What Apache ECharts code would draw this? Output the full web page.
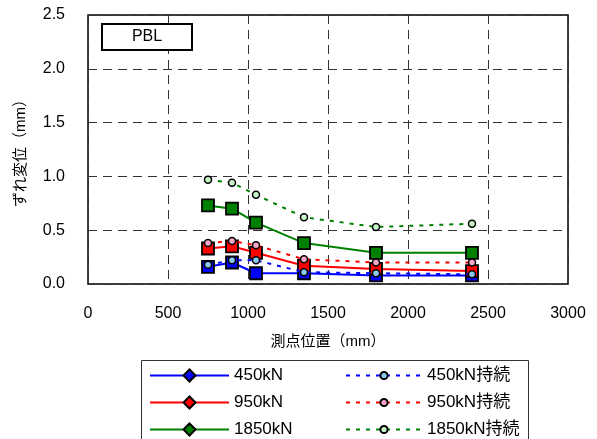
<!DOCTYPE html>
<html>
<head>
<meta charset="utf-8">
<script src="https://cdn.jsdelivr.net/npm/echarts@6/dist/echarts.min.js"></script>
<style>
html,body{margin:0;padding:0;background:#fff;}
#c{width:597px;height:439px;}
</style>
</head>
<body>
<div id="c"></div>
<script>
// Data
const xPositions = [750, 900, 1050, 1350, 1800, 2400];
const s450 = [0.16, 0.20, 0.10, 0.10, 0.08, 0.08];
const s950 = [0.33, 0.35, 0.29, 0.17, 0.14, 0.12];
const s1850 = [0.73, 0.70, 0.57, 0.38, 0.29, 0.29];
const s450c = [0.18, 0.22, 0.22, 0.11, 0.10, 0.09];
const s950c = [0.38, 0.40, 0.36, 0.23, 0.20, 0.20];
const s1850c = [0.97, 0.94, 0.83, 0.62, 0.53, 0.56];
const solidNames = ['450kN', '950kN', '1850kN'];
const sustainedNames = ['450kN持続', '950kN持続', '1850kN持続'];
const xTicks = [0, 500, 1000, 1500, 2000, 2500, 3000];
const yTicks = [0.0, 0.5, 1.0, 1.5, 2.0, 2.5];
const panelLabel = 'PBL';
const xAxisName = '測点位置（mm）';
const yAxisName = 'ずれ変位（mm）';

const FONT = '"Liberation Sans", "Noto Sans CJK JP", sans-serif';

function solidSeries(name, vals, color) {
  return {
    name: name, type: 'line', symbol: 'diamond', symbolSize: 12,
    data: xPositions.map((x, i) => ({ value: [x, vals[i]], symbol: 'rect' })),
    lineStyle: { color: color, width: 2, type: 'solid' },
    itemStyle: { color: color, borderColor: '#000', borderWidth: 1.8 },
    emphasis: { disabled: true }, animation: false, z: 3
  };
}
function dashedSeries(name, vals, color, fill) {
  return {
    name: name, type: 'line', symbol: 'circle', symbolSize: 7,
    data: xPositions.map((x, i) => [x, vals[i]]),
    lineStyle: { color: color, width: 2, type: [4, 6] },
    itemStyle: { color: fill, borderColor: '#000', borderWidth: 1.5 },
    emphasis: { disabled: true }, animation: false, z: 4
  };
}

const chart = echarts.init(document.getElementById('c'), null, { renderer: 'canvas' });
chart.setOption({
  animation: false,
  textStyle: { fontFamily: FONT },
  grid: { left: 88, right: 29, top: 15, bottom: 155, show: true, borderColor: '#000', borderWidth: 1.5, backgroundColor: 'transparent' },
  xAxis: {
    type: 'value', min: xTicks[0], max: xTicks[xTicks.length - 1], interval: 500,
    axisLine: { show: false }, axisTick: { show: false },
    axisLabel: { color: '#000', fontSize: 16, margin: 22, fontFamily: FONT, formatter: v => String(v) },
    splitLine: { show: true, lineStyle: { color: '#333', type: [9, 6], width: 1 } },
    name: xAxisName, nameLocation: 'middle', nameGap: 50,
    nameTextStyle: { color: '#000', fontSize: 15, fontFamily: FONT }
  },
  yAxis: {
    type: 'value', min: yTicks[0], max: yTicks[yTicks.length - 1], interval: 0.5,
    axisLine: { show: false }, axisTick: { show: false },
    axisLabel: { color: '#000', fontSize: 16, margin: 23, fontFamily: FONT, formatter: v => v.toFixed(1) },
    splitLine: { show: true, lineStyle: { color: '#333', type: [9, 6], width: 1 } },
    name: yAxisName, nameLocation: 'middle', nameGap: 60, nameRotate: 90,
    nameTextStyle: { color: '#000', fontSize: 15, fontFamily: FONT }
  },
  legend: [
    {
      data: solidNames, orient: 'vertical', left: 144, top: 362, height: 100,
      itemWidth: 79, itemHeight: 15, itemGap: 10,
      textStyle: { color: '#000', fontSize: 17, lineHeight: 15, fontFamily: FONT },
      selectedMode: false
    },
    {
      data: sustainedNames, orient: 'vertical', left: 340, top: 362, height: 100,
      itemWidth: 76, itemHeight: 9, itemGap: 10,
      textStyle: { color: '#000', fontSize: 17, lineHeight: 15, fontFamily: FONT },
      selectedMode: false
    }
  ],
  graphic: [
    { type: 'rect', shape: { x: 141.5, y: 360.5, width: 387, height: 90 }, style: { fill: 'none', stroke: '#333', lineWidth: 1 }, silent: true },
    { type: 'rect', shape: { x: 102, y: 24, width: 90, height: 26 }, style: { fill: '#fff', stroke: '#000', lineWidth: 2 }, z: 10, silent: true },
    { type: 'text', x: 147, y: 37, style: { text: panelLabel, fill: '#000', font: '16px ' + FONT, textAlign: 'center', textVerticalAlign: 'middle' }, z: 11, silent: true }
  ],
  series: [
    solidSeries(solidNames[0], s450, '#0000ff'),
    solidSeries(solidNames[1], s950, '#ff0000'),
    solidSeries(solidNames[2], s1850, '#008000'),
    dashedSeries(sustainedNames[0], s450c, '#0000ff', '#8ccbf0'),
    dashedSeries(sustainedNames[1], s950c, '#ff0000', '#f4a6c8'),
    dashedSeries(sustainedNames[2], s1850c, '#008000', '#c8f5c8')
  ]
});
</script>
</body>
</html>
